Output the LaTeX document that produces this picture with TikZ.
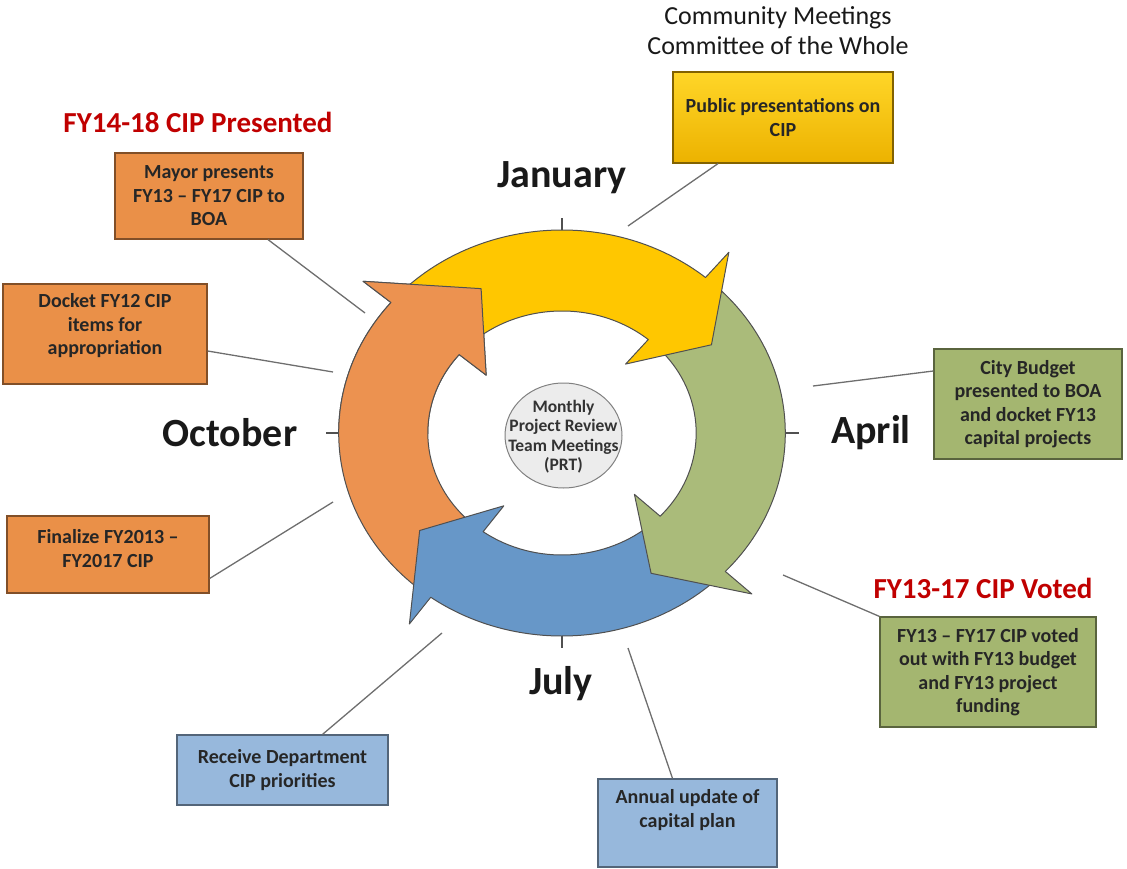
\documentclass[tikz,border=0pt]{standalone}
\usepackage{fontspec}
\setmainfont{Carlito}
\usetikzlibrary{shapes.geometric}

\definecolor{ringyellow}{RGB}{255,199,0}
\definecolor{ringgreen}{RGB}{170,187,122}
\definecolor{ringblue}{RGB}{103,151,200}
\definecolor{ringorange}{RGB}{236,146,80}
\definecolor{arrowline}{RGB}{80,80,80}
\definecolor{boxorange}{RGB}{234,144,72}
\definecolor{boxgreen}{RGB}{164,182,112}
\definecolor{boxblue}{RGB}{151,184,220}
\definecolor{goldtop}{RGB}{255,214,40}
\definecolor{goldbottom}{RGB}{236,178,0}
\definecolor{titlered}{RGB}{192,0,0}
\definecolor{linegray}{RGB}{110,110,110}

\newcommand{\boxfont}{\fontsize{20}{23.5}\selectfont\bfseries}
\newcommand{\monthfont}{\fontsize{40}{44}\selectfont\bfseries}

% one curved arrow of the ring: fill, tail angle, head angle, tip angle
\newcommand{\ringarrow}[4]{%
  \filldraw[fill=#1, draw=arrowline, line width=1pt, line join=round]
    (#2:203pt) arc[start angle=#2, end angle=#3, radius=203pt]
    -- (#3:236pt) -- (#4:162pt) -- (#3:90pt) -- (#3:122pt)
    arc[start angle=#3, end angle=#2, radius=122pt] -- cycle;}

\begin{document}
\begin{tikzpicture}[x=1pt, y=1pt,
    cipbox/.style={rectangle, draw=#1!55!black, fill=#1, line width=1.2pt,
      align=center, font=\boxfont, text=black!85, inner sep=4pt},
    boxtext/.style={align=center, font=\boxfont, text=black!85},
    hubtext/.style={align=center, font=\fontsize{17.5}{19.5}\selectfont\bfseries, text=black!80},
    leader/.style={draw=linegray, line width=1.3pt},
    month/.style={font=\monthfont, text=black!90},
    redtitle/.style={font=\fontsize{29}{34}\selectfont\bfseries, text=titlered}]
  \useasboundingbox (0,0) rectangle (1127,-869);

  % ring of arrows
  \begin{scope}[shift={(562,-433)}, xscale=1.1]
    \ringarrow{ringorange}{230}{140}{117}
    \ringarrow{ringblue}{-47}{-126}{-143}
    \ringarrow{ringgreen}{46}{-43}{-60}
    \ringarrow{ringyellow}{136}{50}{33}
    % orange head goes back on top of the yellow tail
    \begin{scope}
      \clip (-260,0) rectangle (0,260);
      \ringarrow{ringorange}{230}{140}{117}
    \end{scope}
    % quarter ticks
    \foreach \a in {0,90,180,270}
      \draw[arrowline, line width=1.3pt] (\a:203pt) -- (\a:215pt);
  \end{scope}

  % hub
  \node[ellipse, draw=gray, line width=1pt, fill=gray!15, minimum width=117pt,
    minimum height=105pt, inner sep=0pt,
    label={[hubtext, yshift=-1pt]center:Monthly\\Project Review\\Team Meetings\\(PRT)}] (prt) at (563.5,-435.5) {};

  % months
  \node[month] (jan) at (562,-178) {January};
  \node[month] (apr) at (871,-433) {April};
  \node[month] (jul) at (561,-684) {July};
  \node[month] (oct) at (230,-433) {October};

  % headings
  \node[align=center, font=\fontsize{26}{30}\selectfont, text=black!90] (cmtg) at (778,-31)
    {Community Meetings\\Committee of the Whole};
  \node[redtitle] (presented) at (198,-122) {FY14-18 CIP Presented};
  \node[redtitle] (voted) at (983,-588) {FY13-17 CIP Voted};

  % boxes
  \node[cipbox=goldbottom, top color=goldtop, bottom color=goldbottom,
    minimum width=220pt, minimum height=91pt] (pub) at (783,-117.5)
    {Public presentations on\\CIP};
  \node[cipbox=boxorange, minimum width=188pt, minimum height=86pt] (mayor) at (209,-196)
    {Mayor presents\\FY13 -- FY17 CIP to\\BOA};
  \node[cipbox=boxorange, minimum width=204pt, minimum height=100pt,
    label={[boxtext, yshift=8pt]center:Docket FY12 CIP\\items for\\appropriation}] (docket) at (105,-334) {};
  \node[cipbox=boxorange, minimum width=202pt, minimum height=77pt,
    label={[boxtext, yshift=6pt]center:Finalize FY2013 --\\FY2017 CIP}] (final) at (108,-554.5) {};
  \node[cipbox=boxgreen, minimum width=188pt, minimum height=110pt] (city) at (1028,-404)
    {City Budget\\presented to BOA\\and docket FY13\\capital projects};
  \node[cipbox=boxgreen, minimum width=216pt, minimum height=110pt] (vote) at (988,-672)
    {FY13 -- FY17 CIP voted\\out with FY13 budget\\and FY13 project\\funding};
  \node[cipbox=boxblue, minimum width=211pt, minimum height=70pt] (dept) at (282.5,-770)
    {Receive Department\\CIP priorities};
  \node[cipbox=boxblue, minimum width=179pt, minimum height=88pt,
    label={[boxtext, yshift=13pt]center:Annual update of\\capital plan}] (annual) at (687.5,-823) {};

  % leader line ends at the ring
  \coordinate (pubend) at (628,-226);
  \coordinate (mayorend) at (365,-313);
  \coordinate (docketend) at (333,-372);
  \coordinate (finalend) at (333,-502);
  \coordinate (cityend) at (813,-386);
  \coordinate (voteend) at (783,-575);
  \coordinate (deptend) at (442,-633);
  \coordinate (annualend) at (628,-648);

  \draw[leader] ([xshift=-65pt]pub.south) -- (pubend);
  \draw[leader] ([xshift=59pt]mayor.south) -- (mayorend);
  \draw[leader] ([yshift=-17pt]docket.east) -- (docketend);
  \draw[leader] ([yshift=-24pt]final.east) -- (finalend);
  \draw[leader] ([yshift=33pt]city.west) -- (cityend);
  \draw[leader] (vote.north west) -- (voteend);
  \draw[leader] ([xshift=40pt]dept.north) -- (deptend);
  \draw[leader] ([xshift=-15pt]annual.north) -- (annualend);
\end{tikzpicture}
\end{document}
